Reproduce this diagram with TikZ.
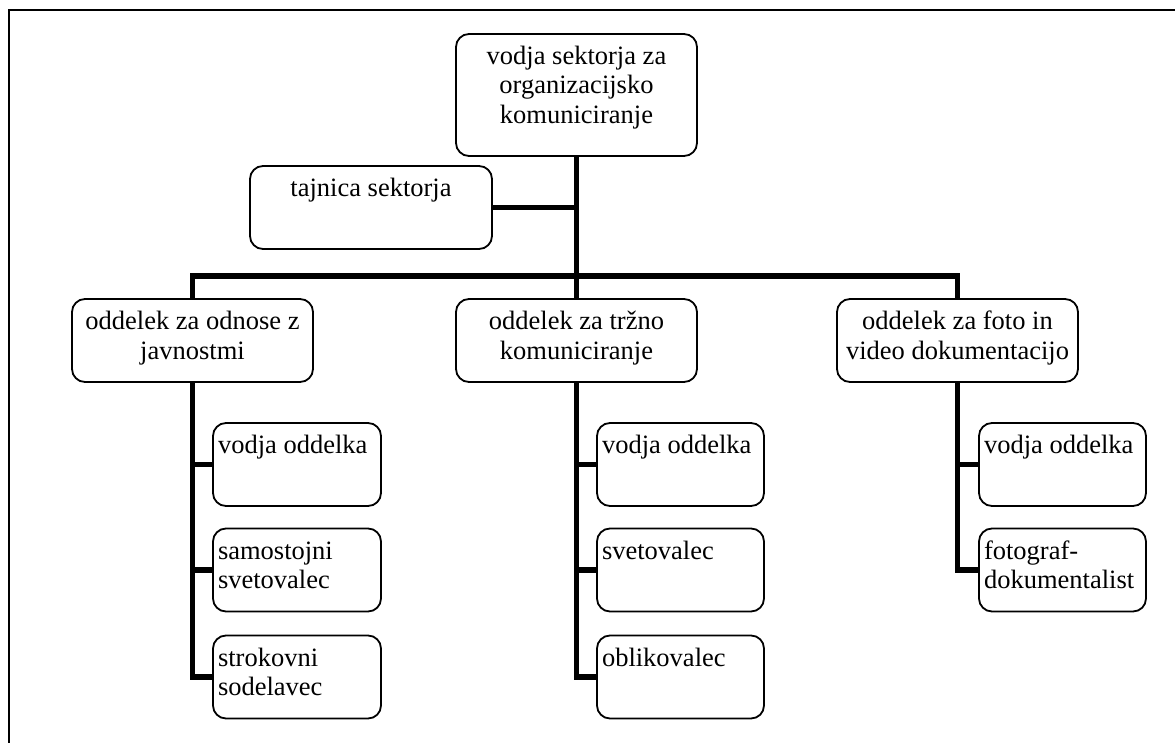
\documentclass[tikz,border=0pt]{standalone}
\usepackage{fontspec}
\setmainfont{Liberation Serif}

% Box contents: text hangs from the top edge of a fixed-size box
\newcommand{\centredbox}[3]{\parbox[c][#2][t]{#1}{\centering\rule{0pt}{30.5pt}#3}}
\newcommand{\leftbox}[3]{\parbox[c][#2][t]{#1}{\raggedright\leftskip=5pt\rule{0pt}{30.5pt}#3}}

\tikzset{
  unit/.style={draw, line width=1.8pt, rounded corners=13pt, inner sep=0pt,
               fill=white, font=\fontsize{26.5pt}{29.5pt}\selectfont},
  conn/.style={line width=5.5pt, line join=miter},
  frameline/.style={line width=2pt},
}

\begin{document}
\begin{tikzpicture}[x=1pt, y=-1pt]
  \useasboundingbox (0,0) rectangle (1175,743);

  % outer frame (only top and left edges fall inside the page)
  \draw[frameline] (1175,10) -- (9,10) -- (9,743);

  % head of the sector and its secretary
  \node[unit] (head) at (576.5,95) {\centredbox{241pt}{122pt}{vodja sektorja za\\ organizacijsko\\ komuniciranje}};
  \node[unit] (secr) at (371,207.5) {\centredbox{242pt}{83pt}{tajnica sektorja}};

  % departments
  \node[unit] (pr)  at (192.5,340.5) {\centredbox{241pt}{83pt}{oddelek za odnose z\\ javnostmi}};
  \node[unit] (mk)  at (576.5,340.5) {\centredbox{241pt}{83pt}{oddelek za tržno\\ komuniciranje}};
  \node[unit] (doc) at (957.5,340.5) {\centredbox{241pt}{83pt}{oddelek za foto in\\ video dokumentacijo}};

  % staff of the public relations department
  \node[unit] (pr1) at (297,464.5) {\leftbox{168pt}{83pt}{vodja oddelka}};
  \node[unit] (pr2) at (297,570)   {\leftbox{168pt}{83pt}{samostojni\\ svetovalec}};
  \node[unit] (pr3) at (297,677)   {\leftbox{168pt}{83pt}{strokovni\\ sodelavec}};

  % staff of the marketing communication department
  \node[unit] (mk1) at (680.5,464.5) {\leftbox{167pt}{83pt}{vodja oddelka}};
  \node[unit] (mk2) at (680.5,570)   {\leftbox{167pt}{83pt}{svetovalec}};
  \node[unit] (mk3) at (680.5,677)   {\leftbox{167pt}{83pt}{oblikovalec}};

  % staff of the photo and video documentation department
  \node[unit] (doc1) at (1062.5,464.5) {\leftbox{167pt}{83pt}{vodja oddelka}};
  \node[unit] (doc2) at (1062.5,570)   {\leftbox{167pt}{83pt}{fotograf-\\ dokumentalist}};

  % junction on the horizontal bus
  \coordinate (bus) at (576.5,276);

  % connectors
  \draw[conn] (head.south) -- (mk.north);
  \draw[conn] (secr.east) -- (secr.east -| head.south);
  \draw[conn] (pr.north) |- (bus) -| (doc.north);

  \draw[conn] (pr.south) |- (pr1.west);
  \draw[conn] (pr.south) |- (pr2.west);
  \draw[conn] (pr.south) |- (pr3.west);

  \draw[conn] (mk.south) |- (mk1.west);
  \draw[conn] (mk.south) |- (mk2.west);
  \draw[conn] (mk.south) |- (mk3.west);

  \draw[conn] (doc.south) |- (doc1.west);
  \draw[conn] (doc.south) |- (doc2.west);
\end{tikzpicture}
\end{document}
